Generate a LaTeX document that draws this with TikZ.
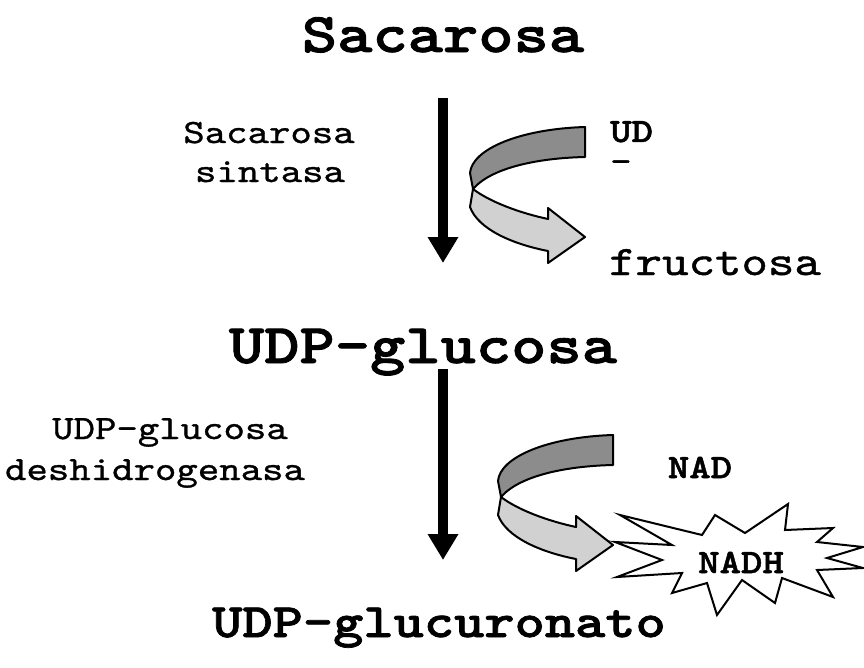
\documentclass[tikz,border=0pt]{standalone}
\usepackage{fontspec}
\newfontfamily\cour{lmmono10-regular.otf}[FakeStretch=1.2, UprightFeatures={FakeBold=1}, BoldFont=lmmonolt10-bold.otf, BoldFeatures={FakeBold=1.5}]
\usepackage{tikz}
\usetikzlibrary{arrows.meta}

\tikzset{
  ribbon/.pic={
    \draw[line width=2pt, line join=round, fill=black!45] (115,0) -- (115,30) .. controls (70,31) and (22,40) .. (3,62) -- (0,46) .. controls (2,22) and (50,2) .. (115,0) -- cycle;
    \draw[line width=2pt, line join=round, fill=black!18] (3,62) .. controls (20,75) and (50,86) .. (78,92) -- (78,81) -- (115,110) -- (78,136) -- (78,124) .. controls (42,117) and (8,102) .. (0,80) -- cycle;
  }
}

\begin{document}
\begin{tikzpicture}[x=1pt, y=-1pt,
    title/.style={inner sep=0, anchor=base, font=\cour\bfseries\fontsize{56}{60}\selectfont},
    enz/.style={inner sep=0, anchor=base, font=\cour\fontsize{34}{40}\selectfont},
    cof/.style={inner sep=0, anchor=base, font=\cour\bfseries\fontsize{34}{30}\selectfont},
    mainarr/.style={line width=10pt, -{Triangle[length=26pt, width=29pt]}},
    burst/.style={fill=white, line width=2pt, line join=miter}]
    \useasboundingbox (0,0) rectangle (864,667);

    \pic at (470,127) {ribbon};
    \pic at (498,435) {ribbon};
    \draw[burst] (615,542) -- (672,545) -- (620,515) -- (702,535) -- (715,515) -- (745,533) -- (788,504) -- (785,530) -- (833,528) -- (817,542) -- (863,547) -- (827,558) -- (863,568) -- (817,570) -- (833,597) -- (782,578) -- (775,603) -- (742,580) -- (717,615) -- (707,583) -- (672,593) -- (682,573) -- (617,577) -- (662,560) -- cycle;

    \node[title] (sac) at (443,52) {Sacarosa};
    \node[title] (udpglc) at (423,363) {UDP-glucosa};
    \node[title, font=\cour\bfseries\fontsize{48}{52}\selectfont] (udpgla) at (439,637) {UDP-glucuronato};

    \node[enz] (sint1) at (269,143) {Sacarosa};
    \node[enz] (sint2) at ([yshift=-39pt, xshift=1pt]sint1.base) {sintasa};
    \node[enz] (deh1) at (170,439) {UDP-glucosa};
    \node[enz] (deh2) at ([yshift=-41pt, xshift=-15pt]deh1.base) {deshidrogenasa};

    \node[cof, anchor=north west, align=left] (ud) at (610,121) {UD\\{\mdseries -}};
    \node[enz, anchor=base west, font=\cour\fontsize{42}{46}\selectfont] (fru) at (609,275) {fructosa};
    \node[cof] (nad) at (700,478) {NAD};
    \node[cof] (nadh) at (741,573) {NADH};

    \coordinate (a1) at ([yshift=-46pt]sac.base);
    \coordinate (b1) at ([yshift=100pt]udpglc.base);
    \coordinate (a2) at ([yshift=-6pt]udpglc.base);
    \coordinate (b2) at ([yshift=77pt]udpgla.base);
    \draw[mainarr] (a1) -- (b1 -| a1);
    \draw[mainarr] (a2 -| a1) -- (b2 -| a1);
\end{tikzpicture}
\end{document}
